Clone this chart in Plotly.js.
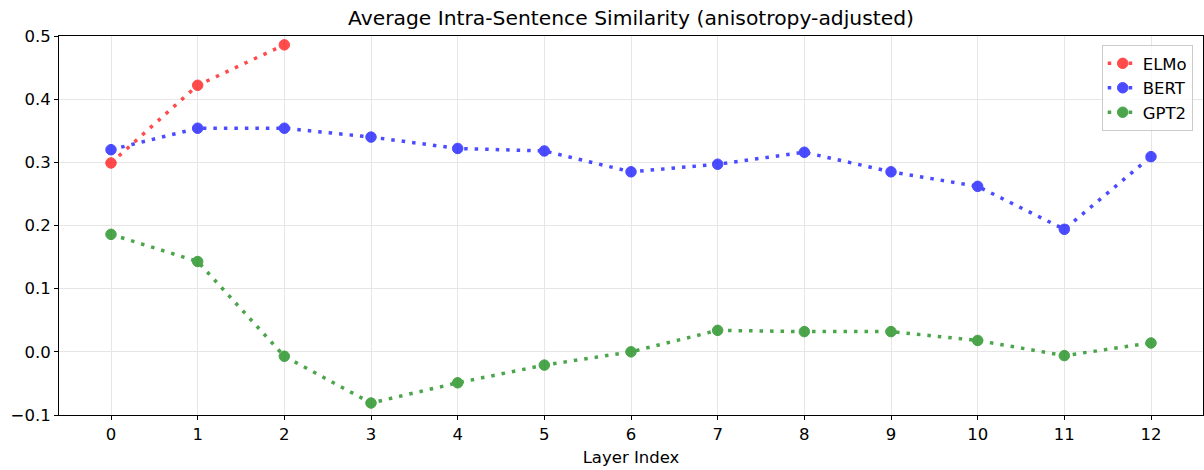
<!DOCTYPE html>
<html>
<head>
<meta charset="utf-8">
<script src="https://cdn.plot.ly/plotly-3.0.1.min.js"></script>
<style>html,body{margin:0;padding:0;background:#fff;}#chart{width:1204px;height:470px;}</style>
</head>
<body>
<div id="chart"></div>
<script>
const layers = [0,1,2,3,4,5,6,7,8,9,10,11,12];
const elmoLayers = [0,1,2];
const elmo = [0.299, 0.422, 0.486];
const bert = [0.320, 0.354, 0.354, 0.340, 0.322, 0.318, 0.285, 0.297, 0.316, 0.285, 0.262, 0.194, 0.309];
const gpt2 = [0.186, 0.143, -0.007, -0.081, -0.049, -0.021, 0.000, 0.034, 0.032, 0.032, 0.018, -0.006, 0.014];
const seriesNames = ['ELMo', 'BERT', 'GPT2'];
const seriesColors = ['#ff0000', '#0000ff', '#008000'];
const tickVals = layers;
const tickText = layers.map(String);

function mk(name, x, y, color) {
  return {
    type: 'scatter', mode: 'lines+markers', name: name, x: x, y: y,
    opacity: 0.7,
    line: {color: color, width: 3.5, dash: '3.5px,7px'},
    marker: {color: color, size: 10.5, line: {color: color, width: 1}}
  };
}
const data = [
  mk(seriesNames[0], elmoLayers, elmo, seriesColors[0]),
  mk(seriesNames[1], layers, bert, seriesColors[1]),
  mk(seriesNames[2], layers, gpt2, seriesColors[2])
];
const fnt = {family: 'DejaVu Sans, sans-serif', size: 16.5, color: '#000'};
const layout = {
  width: 1204, height: 470,
  margin: {l: 59, r: 1, t: 36, b: 55},
  paper_bgcolor: '#fff', plot_bgcolor: '#fff',
  font: fnt,
  title: {text: 'Average Intra-Sentence Similarity (anisotropy-adjusted)', font: {family: 'DejaVu Sans, sans-serif', size: 20.3, color: '#000'}, x: 0.5, xref: 'paper', y: 1 - 18/470, yref: 'container', yanchor: 'middle'},
  xaxis: {
    range: [-0.6, 12.6], tickvals: tickVals, ticktext: tickText,
    showline: true, mirror: true, linecolor: '#000', linewidth: 1,
    ticks: 'outside', ticklen: 4, tickcolor: '#000',
    showgrid: true, gridcolor: '#e6e6e6', gridwidth: 1, zeroline: false,
    title: {text: 'Layer Index', font: fnt, standoff: 8}
  },
  yaxis: {
    range: [-0.1, 0.5], tickvals: [-0.1, 0, 0.1, 0.2, 0.3, 0.4, 0.5],
    ticktext: ['\u22120.1', '0.0', '0.1', '0.2', '0.3', '0.4', '0.5'],
    showline: true, mirror: true, linecolor: '#000', linewidth: 1,
    ticks: 'outside', ticklen: 4, tickcolor: '#000',
    showgrid: true, gridcolor: '#e6e6e6', gridwidth: 1, zeroline: false
  },
  legend: {
    x: 0.991, y: 0.976, xanchor: 'right', yanchor: 'top',
    bgcolor: 'rgba(255,255,255,0.8)', bordercolor: '#cccccc', borderwidth: 1,
    font: fnt, tracegroupgap: 0, itemwidth: 30
  },
  showlegend: true
};
Plotly.newPlot('chart', data, layout, {displayModeBar: false, staticPlot: true});
</script>
</body>
</html>
